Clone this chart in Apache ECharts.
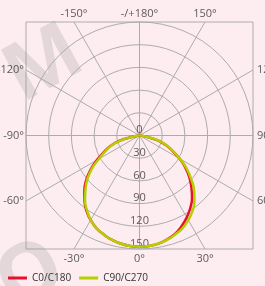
<!DOCTYPE html>
<html>
<head>
<meta charset="utf-8">
<title>Light distribution</title>
<script src="https://cdn.jsdelivr.net/npm/echarts@6.0.0/dist/echarts.min.js"></script>
<style>
    html, body { margin: 0; padding: 0; background: #fdedf0; }
    #main { width: 265px; height: 286px; }
</style>
</head>
<body>
<div id="main"></div>
<script>
    // gamma angles, 0 = straight down
    var angles = [-90, -85, -80, -75, -70, -65, -60, -55, -50, -45, -40, -35, -30, -25, -20, -15, -10, -5,
        0, 5, 10, 15, 20, 25, 30, 35, 40, 45, 50, 55, 60, 65, 70, 75, 80, 85, 90];
    var c0c180 = [0, 2, 9, 28, 41, 52, 65, 79, 92, 103, 113, 122, 129, 135, 139, 142.5, 145, 146.5,
        147, 146.5, 145, 142, 138, 132, 125, 117, 108, 97, 86, 74, 61, 48, 37, 25, 8, 2, 0];
    var c90c270 = [0, 2, 9, 27, 40, 50, 62, 77, 90, 101, 112, 121, 129, 135, 139, 142.5, 145, 146.5,
        147, 146.5, 145, 142.5, 139, 135, 129, 122, 113, 102, 89, 76, 62, 49, 38, 26, 8, 2, 0];
    var seriesNames = ['C0/C180', 'C90/C270'];
    var ringValues = [0, 30, 60, 90, 120, 150];
    var spokeAngles = [-150, -120, -90, -60, -30, 0, 30, 60, 90, 120, 150, 180];

    var RMAX = 150;
    var FONT = '"Open Sans", sans-serif';
    var GRID_COLOR = '#acacac';

    function toPolar(values) {
        return angles.map(function (a, i) {
            return [values[i], (a + 360) % 360];
        });
    }

    function angleText(a) {
        if (a === 180) return '-/+180°';
        return a + '°';
    }

    // end of a spoke on the square frame, in ring units
    function spokeEnd(a) {
        var rad = a * Math.PI / 180;
        var sx = Math.sin(rad), sy = -Math.cos(rad);
        if (Math.abs(sx) < 1e-9) sx = 0;
        if (Math.abs(sy) < 1e-9) sy = 0;
        var k = RMAX / Math.max(Math.abs(sx), Math.abs(sy));
        return [sx * k, sy * k];
    }

    var spokes = spokeAngles.map(function (a) {
        return { coords: [[0, 0], spokeEnd(a)] };
    });

    var spokeLabels = spokeAngles.map(function (a) {
        var p = spokeEnd(a);
        var pos, dist;
        if (Math.abs(p[1]) >= Math.abs(p[0])) {
            pos = p[1] > 0 ? 'top' : 'bottom';
            dist = p[1] > 0 ? 3 : 4;
        } else {
            pos = p[0] > 0 ? 'right' : 'left';
            dist = p[0] > 0 ? 4 : 2;
        }
        return {
            value: p,
            name: angleText(a),
            label: { position: pos, distance: dist }
        };
    });

    var chart = echarts.init(document.getElementById('main'));
    var option = {
        backgroundColor: '#fdedf0',
        animation: false,
        textStyle: { fontFamily: FONT },
        graphic: [
            // faint watermark behind the chart
            {
                type: 'text', left: -8, top: 12, rotation: 0.5, z: 0,
                style: { text: 'M', fontSize: 80, fontWeight: 'bold', fontFamily: FONT, fill: 'rgba(150,150,150,0.25)' }
            },
            {
                type: 'text', left: -16, top: 226, rotation: 0.5, z: 0,
                style: { text: 'O', fontSize: 80, fontWeight: 'bold', fontFamily: FONT, fill: 'rgba(150,150,150,0.25)' }
            }
        ],
        legend: {
            data: seriesNames,
            left: 3,
            top: 268,
            icon: 'rect',
            itemWidth: 19,
            itemHeight: 3,
            itemGap: 8,
            textStyle: { fontSize: 10, color: '#333', fontFamily: FONT }
        },
        grid: {
            left: 26, top: 22, width: 227, height: 227,
            show: true,
            borderColor: GRID_COLOR,
            borderWidth: 1,
            backgroundColor: 'transparent'
        },
        xAxis: { type: 'value', min: -RMAX, max: RMAX, show: false },
        yAxis: { type: 'value', min: -RMAX, max: RMAX, show: false },
        polar: { center: [139.5, 135.5], radius: 113.5 },
        angleAxis: {
            type: 'value', min: 0, max: 360,
            startAngle: 270, clockwise: false,
            axisLine: { show: false }, axisTick: { show: false },
            axisLabel: { show: false }, splitLine: { show: false }
        },
        radiusAxis: {
            type: 'value', min: 0, max: RMAX, interval: 30,
            axisLine: { show: false }, axisTick: { show: false },
            axisLabel: { show: false },
            splitLine: { show: true, lineStyle: { color: GRID_COLOR, width: 1 } }
        },
        series: [
            {
                type: 'lines',
                coordinateSystem: 'cartesian2d',
                silent: true,
                z: 1,
                lineStyle: { color: GRID_COLOR, width: 1, opacity: 1 },
                data: spokes
            },
            {
                type: 'scatter',
                coordinateSystem: 'cartesian2d',
                symbolSize: 0,
                silent: true,
                label: {
                    show: true,
                    formatter: '{b}',
                    fontSize: 11,
                    color: '#333',
                    fontFamily: FONT
                },
                data: spokeLabels
            },
            {
                type: 'scatter',
                coordinateSystem: 'polar',
                symbolSize: 0,
                silent: true,
                z: 3,
                label: {
                    show: true,
                    position: 'top',
                    distance: 0,
                    formatter: function (p) { return p.value[0]; },
                    fontSize: 11,
                    color: '#333',
                    fontFamily: FONT
                },
                data: ringValues.map(function (r) { return [r, 0]; })
            },
            {
                name: seriesNames[0],
                type: 'line',
                coordinateSystem: 'polar',
                showSymbol: false,
                smooth: 0.5,
                z: 4,
                color: '#e8102a',
                lineStyle: { width: 2.5, color: '#e8102a' },
                data: toPolar(c0c180)
            },
            {
                name: seriesNames[1],
                type: 'line',
                coordinateSystem: 'polar',
                showSymbol: false,
                smooth: 0.5,
                z: 5,
                color: '#b5cf00',
                lineStyle: { width: 2.5, color: '#b5cf00' },
                data: toPolar(c90c270)
            }
        ]
    };
    chart.setOption(option);
</script>
</body>
</html>
